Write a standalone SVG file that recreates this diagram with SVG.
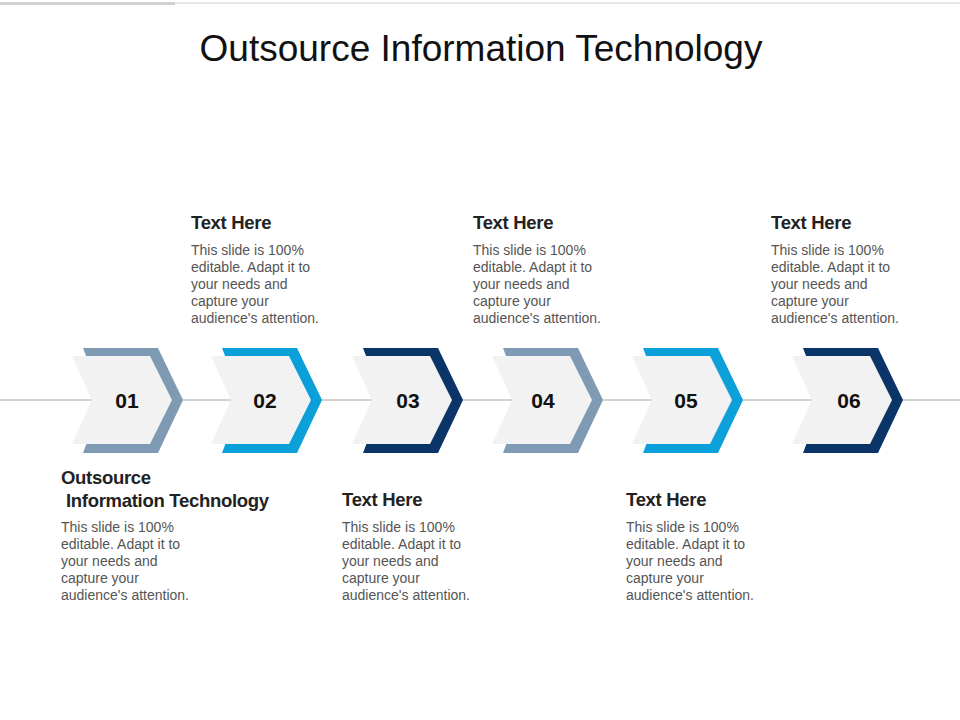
<svg xmlns="http://www.w3.org/2000/svg" width="960" height="720" viewBox="0 0 960 720">
<style>
.t{font-family:"Liberation Sans",Arial,sans-serif}
.title{font-size:37px;fill:#111}
.h{font-size:18.5px;font-weight:bold;fill:#222;letter-spacing:-0.3px}
.b{font-size:14px;fill:#555}
.n{font-size:21px;font-weight:bold;fill:#111;text-anchor:middle}
.in{fill:#F2F2F2}
</style>
<defs>
<polygon id="outer" points="0,0 75,0 100,52 75,105 0,105 20,52"/>
<polygon id="inner" points="-11,8 67,8 89,52 67,96 -11,96 9,52"/>
</defs>
<rect x="0" y="2" width="175" height="3" fill="#D0D0D0"/>
<rect x="175" y="2" width="785" height="2" fill="#E8E8E8"/>
<text class="t title" x="481" y="61" text-anchor="middle">Outsource Information Technology</text>
<g id="connectors"><line x1="0" y1="400" x2="960" y2="400" stroke="#A6A6A6" stroke-width="1"/></g>
<g id="n1" transform="translate(83,348)"><use href="#outer" fill="#7F9AB3"/><use href="#inner" class="in"/><text class="t n" x="44" y="60">01</text></g>
<g id="n2" transform="translate(222,348)"><use href="#outer" fill="#0BA0DA"/><use href="#inner" class="in"/><text class="t n" x="43" y="60">02</text></g>
<g id="n3" transform="translate(363,348)"><use href="#outer" fill="#0B3468"/><use href="#inner" class="in"/><text class="t n" x="45" y="60">03</text></g>
<g id="n4" transform="translate(503,348)"><use href="#outer" fill="#7F9AB3"/><use href="#inner" class="in"/><text class="t n" x="40" y="60">04</text></g>
<g id="n5" transform="translate(643,348)"><use href="#outer" fill="#0BA0DA"/><use href="#inner" class="in"/><text class="t n" x="43" y="60">05</text></g>
<g id="n6" transform="translate(803,348)"><use href="#outer" fill="#0B3468"/><use href="#inner" class="in"/><text class="t n" x="46" y="60">06</text></g>
<g id="tx1" class="t"><text class="h" x="61" y="484">Outsource</text><text class="h" x="66" y="507">Information Technology</text>
<text class="b"><tspan x="61" y="532">This slide is 100%</tspan><tspan x="61" y="549">editable. Adapt it to</tspan><tspan x="61" y="566">your needs and</tspan><tspan x="61" y="583">capture your</tspan><tspan x="61" y="600">audience's attention.</tspan></text></g>
<g id="tx2" class="t"><text class="h" x="191" y="229">Text Here</text>
<text class="b"><tspan x="191" y="255">This slide is 100%</tspan><tspan x="191" y="272">editable. Adapt it to</tspan><tspan x="191" y="289">your needs and</tspan><tspan x="191" y="306">capture your</tspan><tspan x="191" y="323">audience's attention.</tspan></text></g>
<g id="tx3" class="t"><text class="h" x="342" y="506">Text Here</text>
<text class="b"><tspan x="342" y="532">This slide is 100%</tspan><tspan x="342" y="549">editable. Adapt it to</tspan><tspan x="342" y="566">your needs and</tspan><tspan x="342" y="583">capture your</tspan><tspan x="342" y="600">audience's attention.</tspan></text></g>
<g id="tx4" class="t"><text class="h" x="473" y="229">Text Here</text>
<text class="b"><tspan x="473" y="255">This slide is 100%</tspan><tspan x="473" y="272">editable. Adapt it to</tspan><tspan x="473" y="289">your needs and</tspan><tspan x="473" y="306">capture your</tspan><tspan x="473" y="323">audience's attention.</tspan></text></g>
<g id="tx5" class="t"><text class="h" x="626" y="506">Text Here</text>
<text class="b"><tspan x="626" y="532">This slide is 100%</tspan><tspan x="626" y="549">editable. Adapt it to</tspan><tspan x="626" y="566">your needs and</tspan><tspan x="626" y="583">capture your</tspan><tspan x="626" y="600">audience's attention.</tspan></text></g>
<g id="tx6" class="t"><text class="h" x="771" y="229">Text Here</text>
<text class="b"><tspan x="771" y="255">This slide is 100%</tspan><tspan x="771" y="272">editable. Adapt it to</tspan><tspan x="771" y="289">your needs and</tspan><tspan x="771" y="306">capture your</tspan><tspan x="771" y="323">audience's attention.</tspan></text></g>
</svg>
